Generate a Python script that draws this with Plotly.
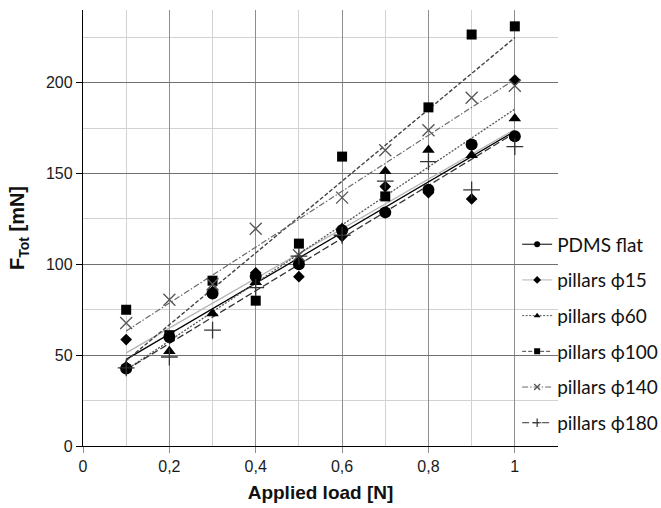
import numpy as np
import plotly.graph_objects as go

# ---- data ----
load = [0.1, 0.2, 0.3, 0.4, 0.5, 0.6, 0.7, 0.8, 0.9, 1.0]
names = ["PDMS flat", "pillars ϕ15", "pillars ϕ60", "pillars ϕ100", "pillars ϕ140", "pillars ϕ180"]
pdms_flat = [42.6, 60.0, 84.0, 93.5, 100.0, 118.7, 128.6, 141.0, 166.0, 170.5]
pillars_15 = [58.6, 60.0, 85.0, 95.3, 93.2, 115.4, 142.8, 139.4, 136.0, 201.4]
pillars_60 = [44.0, 52.2, 73.0, 90.2, 103.0, 120.0, 151.2, 163.0, 160.0, 180.3]
pillars_100 = [75.0, 61.0, 91.0, 80.0, 111.4, 159.3, 137.4, 186.4, 226.5, 231.0]
pillars_140 = [67.7, 80.5, 89.0, 119.6, 105.0, 136.7, 162.8, 173.8, 191.7, 198.3]
pillars_180 = [43.0, 49.0, 63.8, 87.2, 104.5, 116.0, 145.8, 156.5, 141.0, 164.8]

series = [pdms_flat, pillars_15, pillars_60, pillars_100, pillars_140, pillars_180]

# ---- styles ----
symbols = ["circle", "diamond", "triangle-up", "square", "x-thin-open", "cross-thin-open"]
msizes = [12, 9, 11, 10, 12, 12]
mcolors = ["black", "black", "black", "black", "#555555", "#333333"]
lcolors = ["black", "#b4b4b4", "#555555", "#444444", "#6a6a6a", "#333333"]
ldashes = ["solid", "solid", "2px,1.5px", "4px,2px", "6px,2px,1.5px,2px", "7px,3px"]
lwidths = [1.3, 1.3, 1.3, 1.4, 1.2, 1.3]

fig = go.Figure()

# trend lines
for i, ys in enumerate(series):
    k, b = np.polyfit(load, ys, 1)
    xs = [min(load), max(load)]
    fig.add_trace(go.Scatter(
        x=xs, y=[k * xv + b for xv in xs], mode="lines",
        line=dict(color=lcolors[i], dash=ldashes[i], width=lwidths[i]),
        showlegend=False, hoverinfo="skip"))

# data markers
for i, ys in enumerate(series):
    thin = symbols[i].endswith("open")
    fig.add_trace(go.Scatter(
        x=load, y=ys, mode="markers",
        marker=dict(symbol=symbols[i], size=msizes[i], color=mcolors[i],
                    line=dict(width=1.3 if thin else 0, color=mcolors[i])),
        showlegend=False, name=names[i]))

# legend entries
for i in range(len(series)):
    thin = symbols[i].endswith("open")
    fig.add_trace(go.Scatter(
        x=[None], y=[None], mode="lines+markers", name=names[i],
        legendgroup=names[i],
        marker=dict(symbol=symbols[i], size=6, color=mcolors[i],
                    line=dict(width=1.2 if thin else 0, color=mcolors[i])),
        line=dict(color=lcolors[i], dash=ldashes[i], width=1)))

fig.update_layout(
    width=661, height=508,
    margin=dict(l=83, r=103, t=10, b=62, autoexpand=False),
    paper_bgcolor="white", plot_bgcolor="white",
    separators=",.",
    font=dict(family="Liberation Sans, Arial, sans-serif", color="#1a1a1a"),
    legend=dict(
        x=0.914, xanchor="left", y=0.506, yanchor="top",
        bgcolor="rgba(0,0,0,0)", borderwidth=0,
        font=dict(family="Lato, Open Sans, sans-serif", size=19, color="#111111"),
        tracegroupgap=8, itemwidth=30,
    ),
    xaxis=dict(
        range=[0, 1.1], dtick=0.2, tick0=0,
        showgrid=True, gridcolor="#8e8e8e", gridwidth=1,
        minor=dict(dtick=0.1, showgrid=True, gridcolor="#d2d2d2", gridwidth=1),
        zeroline=False, showline=True, linecolor="black", linewidth=1.3,
        ticks="outside", ticklen=6, tickcolor="#8e8e8e",
        tickfont=dict(size=16, color="#1a1a1a"),
        title=dict(text="<b>Applied load [N]</b>", font=dict(size=19, color="#111111"), standoff=11),
    ),
    yaxis=dict(
        range=[0, 240], dtick=50, tick0=0,
        showgrid=True, gridcolor="#707070", gridwidth=1,
        minor=dict(dtick=25, showgrid=True, gridcolor="#d2d2d2", gridwidth=1),
        zeroline=False, showline=True, linecolor="black", linewidth=1.3,
        ticks="outside", ticklen=6, tickcolor="black",
        tickfont=dict(size=16, color="#1a1a1a"),
        title=dict(text="<b>F<sub>Tot</sub> [mN]</b>", font=dict(size=20, color="#111111"), standoff=15),
    ),
)

fig.write_html("out.html")
